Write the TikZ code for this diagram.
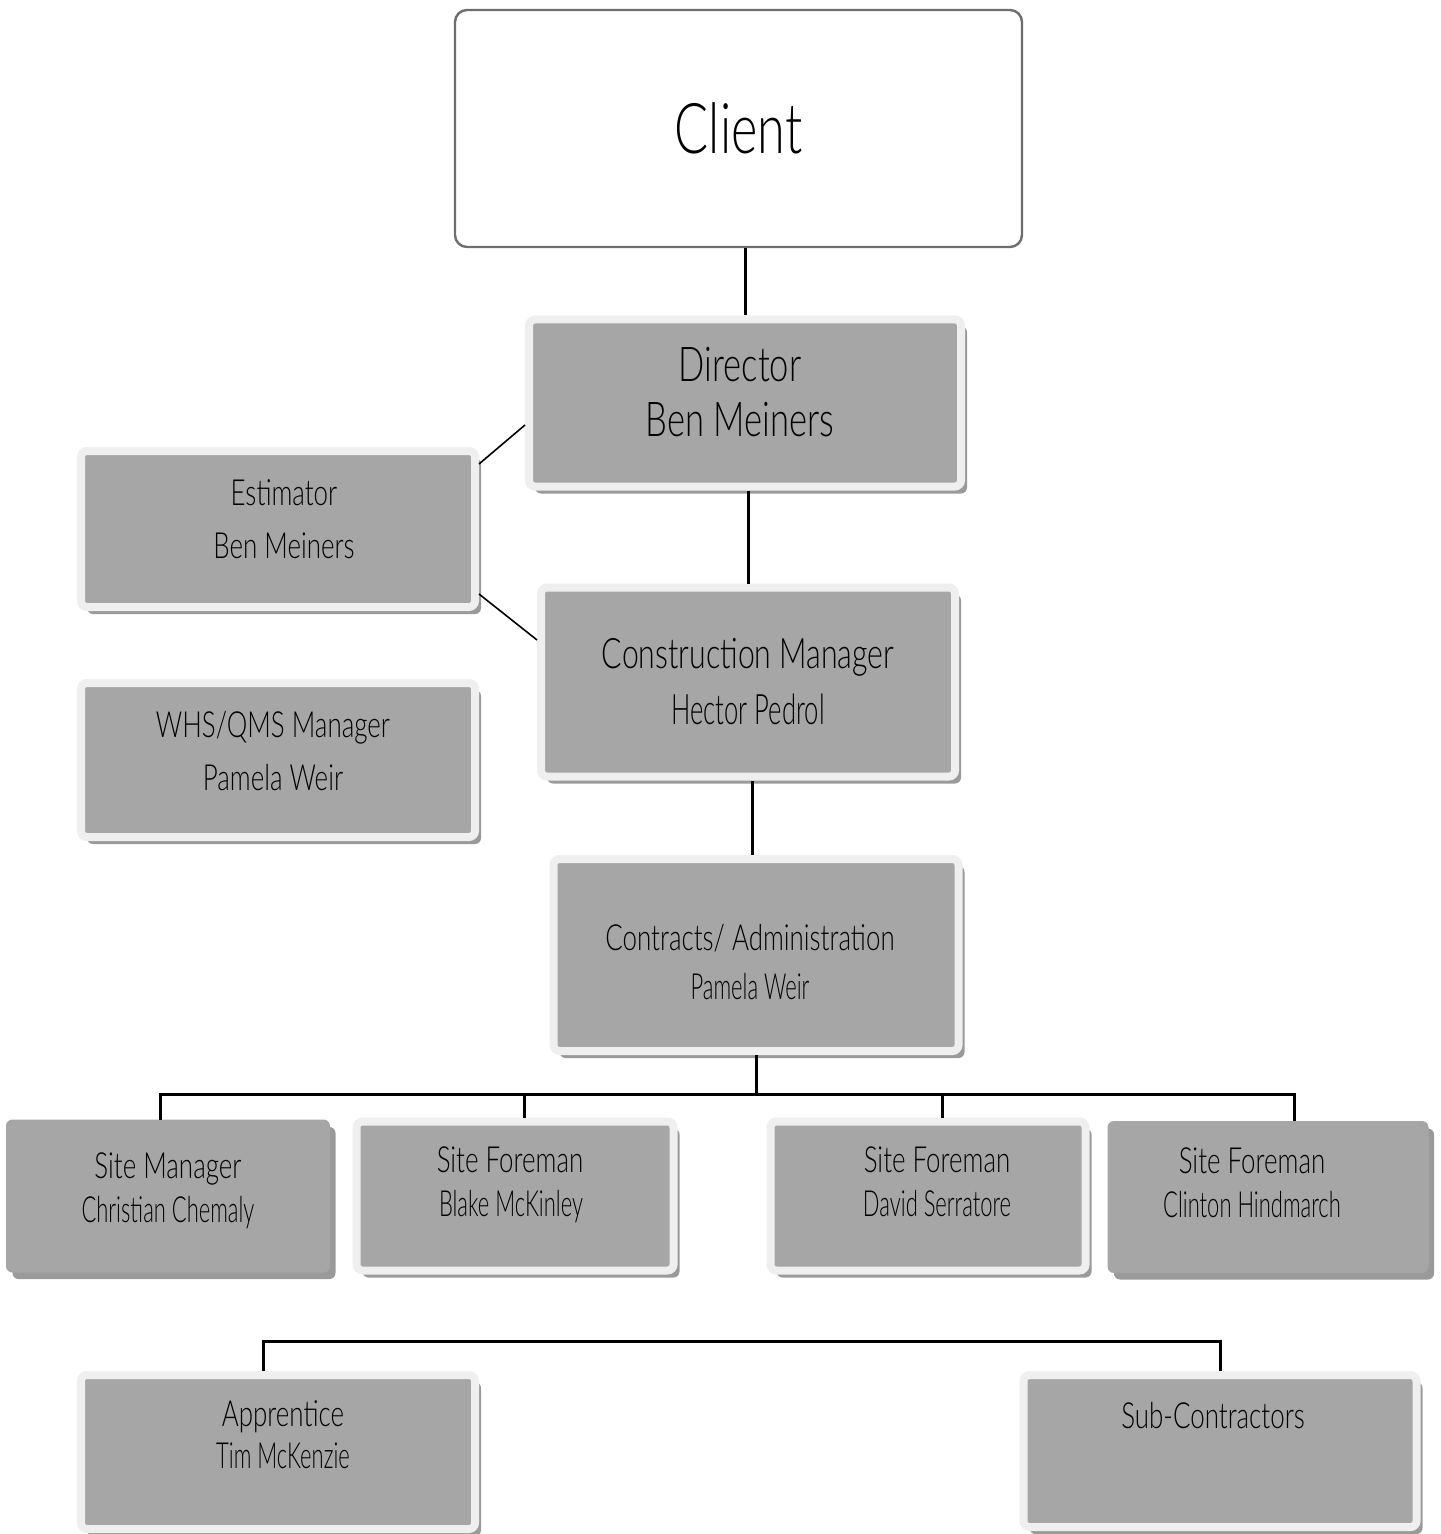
\documentclass[tikz,border=0pt]{standalone}
\usepackage{fontspec}
\setmainfont{Lato}[FakeStretch=0.72, UprightFont=* Light]
\newfontfamily\narrowfont{Lato}[FakeStretch=0.61, UprightFont=* Light]
\usetikzlibrary{shadows}

\definecolor{boxgrey}{HTML}{A6A6A6}
\definecolor{rimgrey}{HTML}{EFEFEF}
\definecolor{shadegrey}{HTML}{9A9A9A}
\definecolor{clientline}{HTML}{6E6E6E}

% pushes a centred line sideways by half of #1
\newcommand{\shiftline}[1]{\hspace*{#1}}

\tikzset{
  orgbox/.style={draw=rimgrey, line width=4pt, fill=boxgrey, rounded corners=3pt,
    align=center, inner sep=0pt,
    drop shadow={shadow xshift=3pt, shadow yshift=-3.5pt, fill=shadegrey, opacity=1}},
  flatbox/.style={orgbox, draw=boxgrey, line width=0.5pt},
  clientbox/.style={draw=clientline, line width=1.2pt, fill=white, rounded corners=6pt,
    align=center, inner sep=0pt},
  lift/.style={text depth=#1},
  link/.style={line width=1.5pt, black},
  thinlink/.style={line width=0.8pt, black},
  bigtext/.style={font=\fontsize{24}{27.5}\selectfont},
  midtext/.style={font=\fontsize{21}{28}\selectfont},
  roletext/.style={font=\fontsize{18}{26.5}\selectfont},
  sitetext/.style={font=\fontsize{18}{22}\selectfont},
}

\begin{document}
\begin{tikzpicture}[x=0.5pt,y=-0.5pt]
\useasboundingbox (0,0) rectangle (1440,1534);

% top of the tree
\node[clientbox, minimum width=283.5pt, minimum height=118.5pt,
  font=\fontsize{35}{42}\selectfont] (client) at (738.5,128.5) {Client};
\node[orgbox, bigtext, lift=11pt, minimum width=216pt, minimum height=83.5pt] (dir) at (745,403) {\shiftline{-5pt}Director\\\shiftline{-5pt}Ben Meiners};
\node[orgbox, midtext, minimum width=207pt, minimum height=94.5pt] (cm) at (748,682) {Construction Manager\\{\narrowfont Hector Pedrol}};
\node[orgbox, roletext, font=\fontsize{18}{24.5}\selectfont, minimum width=202.5pt, minimum height=96pt] (con) at (756,955) {\rule{0pt}{20pt}\shiftline{-6pt}Contracts/ Administration\\\shiftline{-6pt}{\narrowfont Pamela Weir}};

% side boxes
\node[orgbox, roletext, lift=10pt, minimum width=197pt, minimum height=78pt] (est) at (278,529) {\shiftline{6pt}Estimator\\\shiftline{6pt}Ben Meiners};
\node[orgbox, roletext, lift=9pt, minimum width=197pt, minimum height=77pt] (whs) at (278,760) {\shiftline{-5pt}WHS/QMS Manager\\\shiftline{-5pt}Pamela Weir};

% site row
\node[flatbox, sitetext, lift=8pt, minimum width=161.5pt, minimum height=76pt] (sm) at (168,1196) {Site Manager\\{\narrowfont Christian Chemaly}};
\node[orgbox, sitetext, lift=14pt, minimum width=158.5pt, minimum height=74.5pt] (sf1) at (515,1196) {\shiftline{-5pt}Site Foreman\\\shiftline{-4pt}{\narrowfont Blake McKinley}};
\node[orgbox, sitetext, lift=14pt, minimum width=157.5pt, minimum height=74.5pt] (sf2) at (928,1196) {\shiftline{9pt}Site Foreman\\\shiftline{9pt}{\narrowfont David Serratore}};
\node[flatbox, sitetext, lift=14pt, minimum width=160pt, minimum height=75.5pt] (sf3) at (1268,1197) {\shiftline{-16pt}Site Foreman\\\shiftline{-16pt}{\narrowfont Clinton Hindmarch}};

% bottom row
\node[orgbox, sitetext, font=\fontsize{18}{21}\selectfont, lift=17pt, minimum width=197pt, minimum height=77pt] (app) at (278,1452) {\shiftline{5pt}Apprentice\\\shiftline{5pt}{\narrowfont Tim McKenzie}};
\node[orgbox, sitetext, lift=36pt, minimum width=196.5pt, minimum height=76pt] (sub) at (1220,1451) {\shiftline{-7pt}Sub-Contractors};

% connectors
\draw[link] (dir.north |- client.south) -- (dir.north);
\draw[link] (cm.north |- dir.south) -- (cm.north);
\draw[link] ([xshift=-2pt]con.north |- cm.south) -- ([xshift=-2pt]con.north);
\draw[thinlink] ([yshift=-8.5pt]est.north east) -- ([yshift=-11pt]dir.west);
\draw[thinlink] ([yshift=8.5pt]est.south east) -- ([yshift=21pt]cm.west);

\coordinate (bus) at (0,1095);
\draw[link] (con.south) -- (con.south |- bus);
\draw[link] ([xshift=-4pt]sm.north) -- ++(0,-25) -| ([xshift=13pt]sf3.north);
\draw[link] ([xshift=4.5pt]sf1.north) -- ++(0,-25);
\draw[link] ([xshift=7pt]sf2.north) -- ++(0,-25);

\draw[link] ([xshift=-7.5pt]app.north) -- ++(0,-30) -| (sub.north);
\end{tikzpicture}
\end{document}
